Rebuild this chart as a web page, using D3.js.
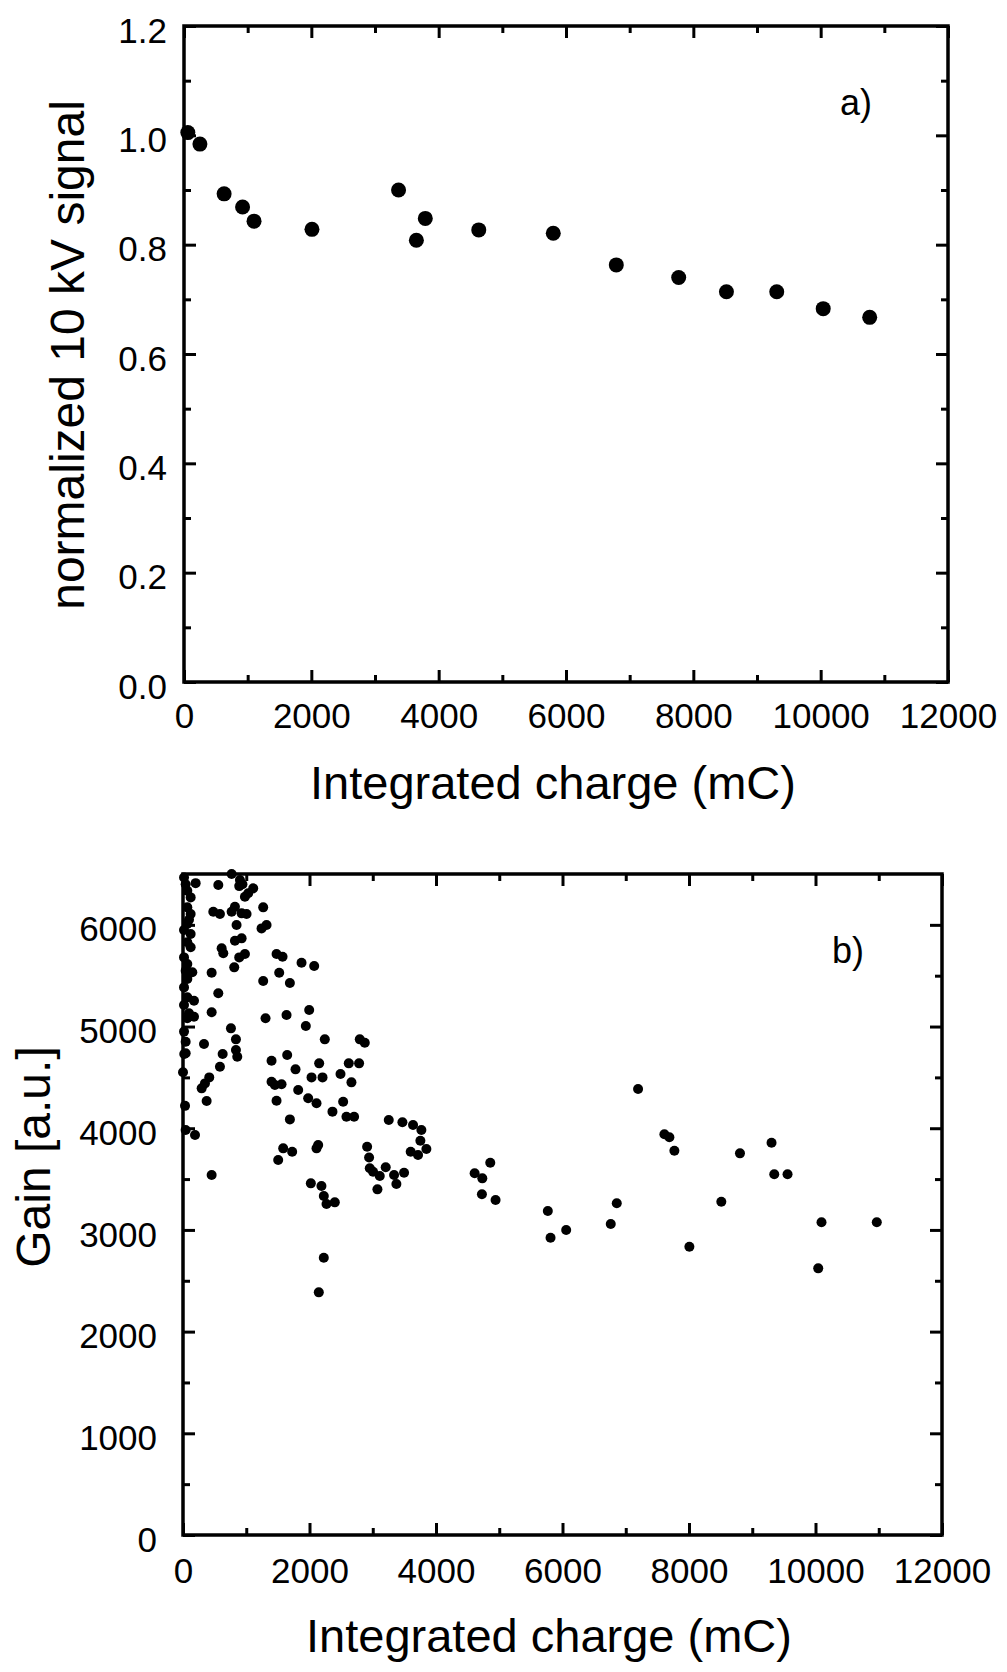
<!DOCTYPE html>
<html>
<head>
<meta charset="utf-8">
<style>
  body { margin: 0; background: #fff; }
  svg text { font-family: "Liberation Sans", Arial, Helvetica, sans-serif; fill: #000; }
  .axis path { display: none; }
  .axis line { stroke: #000; stroke-width: 3px; }
  .axis text { font-size: 35px; }
</style>
</head>
<body>
<svg width="1007" height="1672"></svg>
<script src="https://cdnjs.cloudflare.com/ajax/libs/d3/7.8.5/d3.min.js"></script>
<script>

// panel a) normalized 10 kV signal vs integrated charge
var chargeA = [60, 250, 630, 920, 1100, 2010, 3370, 3650, 3790, 4630, 5800, 6790, 7770, 8520, 9310, 10040, 10770];
var signalA = [1.005, 0.984, 0.893, 0.869, 0.843, 0.828, 0.900, 0.808, 0.848, 0.827, 0.821, 0.763, 0.740, 0.714, 0.714, 0.683, 0.667];

// panel b) gain vs integrated charge
var chargeB = [16, 42, 68, 121, 68, 121, 95, 68, 16, 121, 68, 121, 16, 68, 42, 147, 68, 16, 68, 174, 16, 95, 68, 174, 42, 16, 42, 20, 0, 32, 42, 190, 200,
  769, 558, 900, 940, 889, 1110, 1031, 979, 479, 584, 769, 821, 1005, 927, 1268, 1321, 1242, 847, 927, 821, 611, 637, 979, 889, 810, 453,
  1479, 1574, 1874, 2074, 1268, 1521, 1690, 558, 453, 1305, 1637, 1995, 1942, 758, 837, 2242, 2795, 2874, 332, 837, 858, 627, 584,
  1647, 1400, 2153, 2621, 2784, 1779, 2032, 2206, 2490, 2663, 415, 347, 295, 1400, 1453, 1558, 1821, 374, 1479, 1979, 2111, 2532,
  2363, 2584, 2705, 1690, 3253, 3469, 3637, 3769, 3753, 3848, 3600, 3716, 2911, 1584, 1726, 1505, 2111, 2137, 2942, 2953, 3005,
  3111, 3205, 3337, 3495, 3374, 3074, 453, 2021, 2189, 2226, 2269, 2400, 2226, 2147, 4611, 4732, 4858, 4726, 4942, 5768, 5811,
  6058, 6763, 6858, 7195, 7611, 7690, 7769, 8006, 8511, 8806, 9305, 9348, 9558, 10043, 10095, 10969];
var gainB = [6466, 6400, 6335, 6270, 6172, 6106, 6050, 6008, 5950, 5910, 5828, 5779, 5680, 5614, 5549, 5533, 5467, 5385, 5287, 5254, 5211, 5130, 5081, 5097, 4851, 4950, 4737, 4730, 4550, 4220, 3982, 3933, 6410,
  6500, 6391, 6440, 6400, 6381, 6359, 6310, 6276, 6129, 6106, 6129, 6178, 6106, 6113, 6172, 5998, 5965, 5998, 5867, 5844, 5769, 5720, 5713, 5680, 5582, 5529,
  5713, 5686, 5627, 5595, 5447, 5529, 5428, 5327, 5141, 5081, 5113, 5162, 5005, 4982, 4874, 4874, 4874, 4841, 4828, 4769, 4703, 4730, 4605,
  4720, 4664, 4638, 4638, 4638, 4579, 4500, 4500, 4533, 4451, 4500, 4441, 4392, 4457, 4425, 4432, 4376, 4268, 4271, 4294, 4245, 4261,
  4163, 4113, 4113, 4087, 4081, 4058, 4031, 3982, 3877, 3795, 3769, 3736, 3818, 3802, 3769, 3687, 3802, 3835, 3713, 3606, 3572,
  3530, 3616, 3540, 3563, 3451, 3399, 3540, 3458, 3432, 3333, 3255, 3271, 2727, 2386, 3557, 3507, 3661, 3350, 3294, 3186, 2923,
  2999, 3058, 3262, 4385, 3940, 3911, 3779, 2835, 3277, 3753, 3857, 3547, 3547, 2622, 3075, 3075];

var xTicks = [0, 2000, 4000, 6000, 8000, 10000, 12000];
var xMinor = [1000, 3000, 5000, 7000, 9000, 11000];
var yTicksA = [0, 0.2, 0.4, 0.6, 0.8, 1.0, 1.2];
var yMinorA = [0.1, 0.3, 0.5, 0.7, 0.9, 1.1];
var yTicksB = [0, 1000, 2000, 3000, 4000, 5000, 6000];
var yMinorB = [500, 1500, 2500, 3500, 4500, 5500];

var svg = d3.select("svg");

function panel(p) {
  var x = d3.scaleLinear().domain([0, 12000]).range([p.left, p.right]);
  var y = d3.scaleLinear().domain([0, p.ymax]).range([p.bottom, p.top]);
  var g = svg.append("g");

  // minor ticks, all four sides, pointing inward
  g.append("g").attr("class", "axis").attr("transform", "translate(0," + p.bottom + ")")
    .call(d3.axisBottom(x).tickValues(xMinor).tickSize(-7).tickFormat(""));
  g.append("g").attr("class", "axis").attr("transform", "translate(0," + p.top + ")")
    .call(d3.axisTop(x).tickValues(xMinor).tickSize(-7).tickFormat(""));
  g.append("g").attr("class", "axis").attr("transform", "translate(" + p.left + ",0)")
    .call(d3.axisLeft(y).tickValues(p.yMinor).tickSize(-7).tickFormat(""));
  g.append("g").attr("class", "axis").attr("transform", "translate(" + p.right + ",0)")
    .call(d3.axisRight(y).tickValues(p.yMinor).tickSize(-7).tickFormat(""));

  // major ticks
  g.append("g").attr("class", "axis").attr("transform", "translate(0," + p.bottom + ")")
    .call(d3.axisBottom(x).tickValues(xTicks).tickSize(-12).tickPadding(p.xPad).tickFormat(d3.format("d")));
  g.append("g").attr("class", "axis").attr("transform", "translate(0," + p.top + ")")
    .call(d3.axisTop(x).tickValues(xTicks).tickSize(-12).tickFormat(""));
  g.append("g").attr("class", "axis").attr("transform", "translate(" + p.left + ",0)")
    .call(d3.axisLeft(y).tickValues(p.yTicks).tickSize(-12).tickPadding(p.yPad).tickFormat(p.yFormat))
    .selectAll("text").attr("dy", "0.46em");
  g.append("g").attr("class", "axis").attr("transform", "translate(" + p.right + ",0)")
    .call(d3.axisRight(y).tickValues(p.yTicks).tickSize(-12).tickFormat(""));

  // frame
  g.append("rect")
    .attr("x", p.left).attr("y", p.top)
    .attr("width", p.right - p.left).attr("height", p.bottom - p.top)
    .attr("fill", "none").attr("stroke", "#000").attr("stroke-width", 3.5);

  g.selectAll("circle.pt")
    .data(p.xs)
    .enter().append("circle")
      .attr("class", "pt")
      .attr("cx", function(d) { return x(d); })
      .attr("cy", function(d, i) { return y(p.ys[i]); })
      .attr("r", p.r)
      .attr("fill", "#000");

  g.append("text")
    .attr("x", p.xTitle[0]).attr("y", p.xTitle[1])
    .attr("text-anchor", "middle")
    .style("font-size", "47px")
    .text("Integrated charge (mC)");

  g.append("text")
    .attr("transform", "translate(" + p.yTitle[0] + "," + p.yTitle[1] + ") rotate(-90)")
    .attr("text-anchor", "middle")
    .style("font-size", "48px")
    .text(p.yLabel);

  g.append("text")
    .attr("x", p.tag[0]).attr("y", p.tag[1])
    .style("font-size", "36px")
    .text(p.tagText);
}

panel({
  left: 184, right: 948, top: 26, bottom: 682, ymax: 1.2,
  yTicks: yTicksA, yMinor: yMinorA, yFormat: d3.format(".1f"),
  xPad: 21, yPad: 17,
  xs: chargeA, ys: signalA, r: 7.5,
  xTitle: [553, 799], yTitle: [84, 355], yLabel: "normalized 10 kV signal",
  tag: [840, 115], tagText: "a)"
});

panel({
  left: 183, right: 942, top: 874, bottom: 1535, ymax: 6500,
  yTicks: yTicksB, yMinor: yMinorB, yFormat: d3.format("d"),
  xPad: 23, yPad: 26,
  xs: chargeB, ys: gainB, r: 5,
  xTitle: [549, 1652], yTitle: [50, 1157], yLabel: "Gain [a.u.]",
  tag: [832, 963], tagText: "b)"
});

</script>
</body>
</html>
